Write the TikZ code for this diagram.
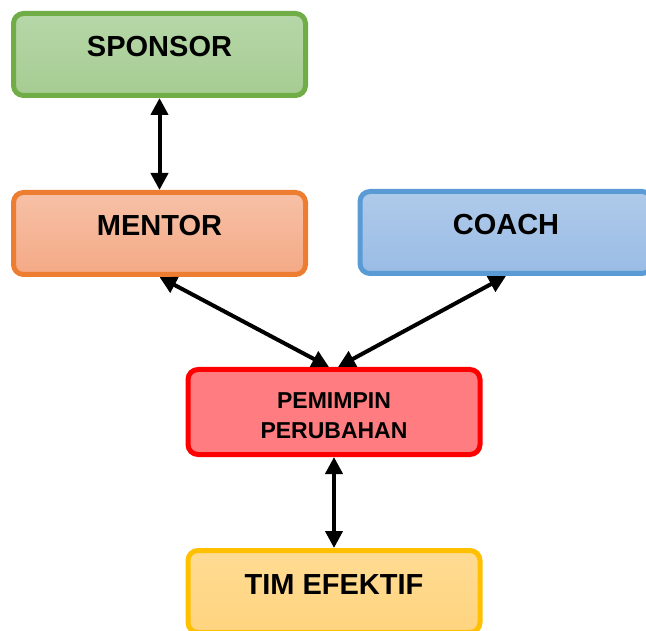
\documentclass[tikz,border=0pt]{standalone}
\usepackage{fontspec}
\setmainfont{Liberation Sans}
\usetikzlibrary{arrows.meta}

\definecolor{sponsorline}{HTML}{70AD47}
\definecolor{sponsortop}{HTML}{B6D7A8}
\definecolor{sponsorbot}{HTML}{A6CC92}
\definecolor{mentorline}{HTML}{ED7D31}
\definecolor{mentortop}{HTML}{F7C1A7}
\definecolor{mentorbot}{HTML}{F4A985}
\definecolor{coachline}{HTML}{5B9BD5}
\definecolor{coachtop}{HTML}{AFCAEA}
\definecolor{coachbot}{HTML}{9ABCE5}
\definecolor{leaderline}{HTML}{FF0000}
\definecolor{leaderfill}{HTML}{FF7C80}
\definecolor{teamline}{HTML}{FFC000}
\definecolor{teamtop}{HTML}{FFDB93}
\definecolor{teambot}{HTML}{FFD47F}

\tikzset{
  box/.style={rounded corners=10pt, line width=5pt, minimum width=292pt,
    inner sep=0pt, text height=43.5pt, text depth=38.5pt,
    font=\bfseries\fontsize{29}{29}\selectfont},
  link/.style={{Triangle[length=17pt,width=17pt]}-{Triangle[length=17pt,width=17pt]},
    line width=4pt}
}

\begin{document}
\begin{tikzpicture}[x=1pt,y=-1pt]
          \useasboundingbox (0,0) rectangle (646,631);

          \node[box, anchor=base, draw=sponsorline, top color=sponsortop, bottom color=sponsorbot]
            (sponsor) at (159.5,57) {SPONSOR};
          \node[box, anchor=base, draw=mentorline, top color=mentortop, bottom color=mentorbot]
            (mentor) at (159.5,236) {MENTOR};
          \node[box, anchor=base, draw=coachline, top color=coachtop, bottom color=coachbot]
            (coach) at (506,235) {COACH};
          \node[box, anchor=base, draw=leaderline, fill=leaderfill, align=center,
            text height=68.5pt, text depth=16.5pt, font=\bfseries\fontsize{23}{29}\selectfont]
            (leader) at (334,438) {PEMIMPIN\\PERUBAHAN};
          \node[box, anchor=base, draw=teamline, top color=teamtop, bottom color=teambot]
            (team) at (334,594) {TIM EFEKTIF};

          \draw[link] (sponsor.south) -- (mentor.north);
          \draw[link] (mentor.south) -- ([xshift=-5pt]leader.north);
          \draw[link] (coach.south) -- ([xshift=4pt]leader.north);
          \draw[link] (leader.south) -- (team.north);
\end{tikzpicture}
\end{document}
